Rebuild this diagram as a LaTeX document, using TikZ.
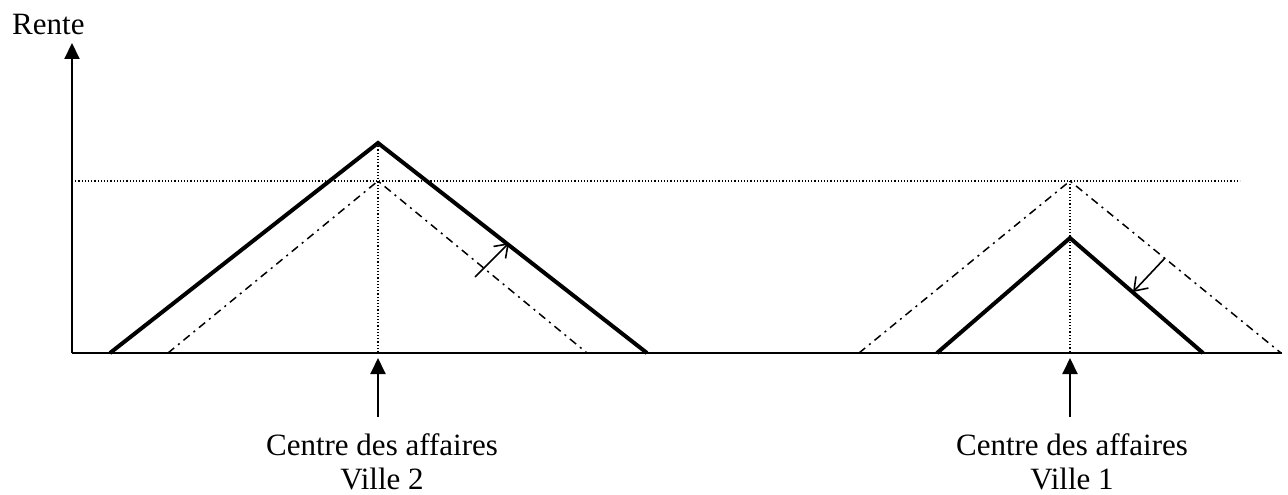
\documentclass[tikz,border=0pt]{standalone}
\usepackage{fontspec}
\setmainfont{Liberation Serif}
\usetikzlibrary{arrows.meta}
\begin{document}
\begin{tikzpicture}[x=1pt,y=-1pt,
  lbl/.style={inner sep=0pt,font=\fontsize{31}{35}\selectfont},
  axisline/.style={line width=2pt},
  rentnew/.style={line width=4pt,line join=miter},
  rentold/.style={line width=1.5pt,dash pattern=on 8pt off 5pt on 2pt off 5pt},
  guide/.style={line width=1.2pt,dash pattern=on 1.2pt off 2pt},
  bigarrow/.style={line width=2pt,-{Triangle[length=16pt,width=15pt]}},
  shiftarrow/.style={line width=1.6pt,-{Straight Barb[length=12pt,width=17pt,line width=1.6pt]}}]
\useasboundingbox (0,0) rectangle (1288,495);
% axes
\coordinate (O) at (72,353);
\coordinate (Ytop) at (72,43);
\coordinate (Xend) at (1282,353);
\draw[axisline] (Xend) -- (O);
\draw[bigarrow] (O) -- (Ytop);
\node[lbl,anchor=base west] (rente) at (12,35) {Rente};
% guide lines
\coordinate (H0) at (72,181);
\coordinate (H1) at (1240,181);
\draw[guide] (H0) -- (H1);
\coordinate (P2) at (378,143);
\coordinate (Q2) at (378,181);
\coordinate (B2) at (378,353);
\draw[guide] (P2) -- (B2);
\coordinate (Q1) at (1070,181);
\coordinate (P1) at (1070,238);
\coordinate (B1) at (1070,353);
\draw[guide] (Q1) -- (B1);
% Ville 2
\coordinate (L2s) at (110,353);
\coordinate (R2s) at (647,353);
\coordinate (L2d) at (168,353);
\coordinate (R2d) at (587,353);
\draw[rentold] (L2d) -- (Q2) -- (R2d);
\draw[rentnew] (L2s) -- (P2) -- (R2s);
% Ville 1
\coordinate (L1s) at (937,353);
\coordinate (R1s) at (1203,353);
\coordinate (L1d) at (859,353);
\coordinate (R1d) at (1281,353);
\draw[rentold] (L1d) -- (Q1) -- (R1d);
\draw[rentnew] (L1s) -- (P1) -- (R1s);
% shift arrows
\coordinate (a2t) at (475,277);
\coordinate (a2h) at (509,243);
\draw[shiftarrow] (a2t) -- (a2h);
\coordinate (a1t) at (1165,258);
\coordinate (a1h) at (1133,292);
\draw[shiftarrow] (a1t) -- (a1h);
% centre arrows
\coordinate (c2) at (378,417);
\coordinate (c2h) at (378,358);
\draw[bigarrow] (c2) -- (c2h);
\coordinate (c1) at (1070,417);
\coordinate (c1h) at (1070,358);
\draw[bigarrow] (c1) -- (c1h);
% labels
\node[lbl,anchor=base] (t2a) at (382,455) {Centre des affaires};
\node[lbl,anchor=base] (t2b) at (382,489) {Ville 2};
\node[lbl,anchor=base] (t1a) at (1072,455) {Centre des affaires};
\node[lbl,anchor=base] (t1b) at (1072,489) {Ville 1};
\end{tikzpicture}
\end{document}
